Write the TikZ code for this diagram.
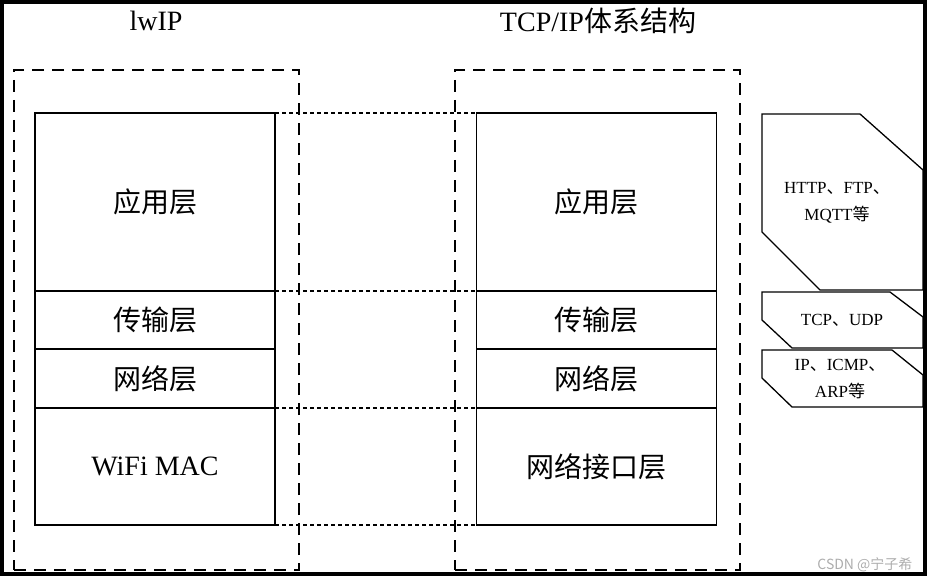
\documentclass[tikz,border=0pt]{standalone}
\usepackage{fontspec}
\setmainfont{Liberation Serif}
\newfontfamily\cjk{Noto Sans CJK SC}
\usetikzlibrary{positioning}

\begin{document}
\begin{tikzpicture}[x=1pt, y=-1pt,
	layer/.style={draw, line width=1.5pt, inner sep=0pt, outer sep=0pt, minimum width=240pt, font=\fontsize{28}{32}\selectfont},
	group/.style={draw, line width=1.7pt, dash pattern=on 12pt off 8pt, inner sep=0pt, outer sep=0pt, minimum width=285pt, minimum height=500pt},
	link/.style={line width=2.6pt, dash pattern=on 4pt off 3pt},
	proto/.style={draw, line width=1.3pt, line join=miter},
	ptext/.style={font=\fontsize{17}{27}\selectfont, align=center, inner sep=0pt}]
	\useasboundingbox (0,0) rectangle (931,583);
	\draw[line width=4pt] (2,2) rectangle (925,574);
	% titles
	\node[font=\fontsize{28}{32}\selectfont] (ttl) at (156,21) {lwIP};
	\node[font=\fontsize{28}{32}\selectfont] (ttr) at (598,21) {TCP/IP{\cjk 体系结构}};
	% dashed groups
	\node[group] (lgrp) at (156.5,320) {};
	\node[group] (rgrp) at (597.5,320) {};
	% lwIP stack
	\node[layer, minimum height=178pt] (la) at (155,202) {\cjk 应用层};
	\node[layer, minimum height=58pt] (lt) at (155,320) {\cjk 传输层};
	\node[layer, minimum height=59pt] (ln) at (155,378.5) {\cjk 网络层};
	\node[layer, minimum height=117pt] (lm) at (155,466.5) {WiFi MAC};
	% TCP/IP stack
	\node[layer, minimum height=178pt] (ra) at (596.5,202) {\cjk 应用层};
	\node[layer, minimum height=58pt] (rt) at (596.5,320) {\cjk 传输层};
	\node[layer, minimum height=59pt] (rn) at (596.5,378.5) {\cjk 网络层};
	\node[layer, minimum height=117pt] (rm) at (596.5,466.5) {\cjk 网络接口层};
	% dotted links
	\draw[link] (la.north east) -- (ra.north west);
	\draw[link] (lt.north east) -- (rt.north west);
	\draw[link] (lm.north east) -- (rm.north west);
	\draw[link] (lm.south east) -- (rm.south west);
	% protocol tags
	\draw[proto] (762,114) -- (860,114) -- (923,170) -- (923,290) -- (820,290) -- (762,232) -- cycle;
	\node[ptext] (app) at (837,203) {HTTP{\cjk 、}FTP{\cjk 、}\\MQTT{\cjk 等}};
	\draw[proto] (762,292) -- (890,292) -- (923,317) -- (923,348) -- (792,348) -- (762,320) -- cycle;
	\node[ptext] (tra) at (842,320) {TCP{\cjk 、}UDP};
	\draw[proto] (762,350) -- (892,350) -- (923,375) -- (923,407) -- (792,407) -- (762,378) -- cycle;
	\node[ptext] (net) at (840,379) {IP{\cjk 、}ICMP{\cjk 、}\\ARP{\cjk 等}};
	% watermark
	\node[text=black!32, font=\cjk\fontsize{14}{16}\selectfont, anchor=east] (wm) at (916,565) {CSDN @宁子希};
\end{tikzpicture}
\end{document}
